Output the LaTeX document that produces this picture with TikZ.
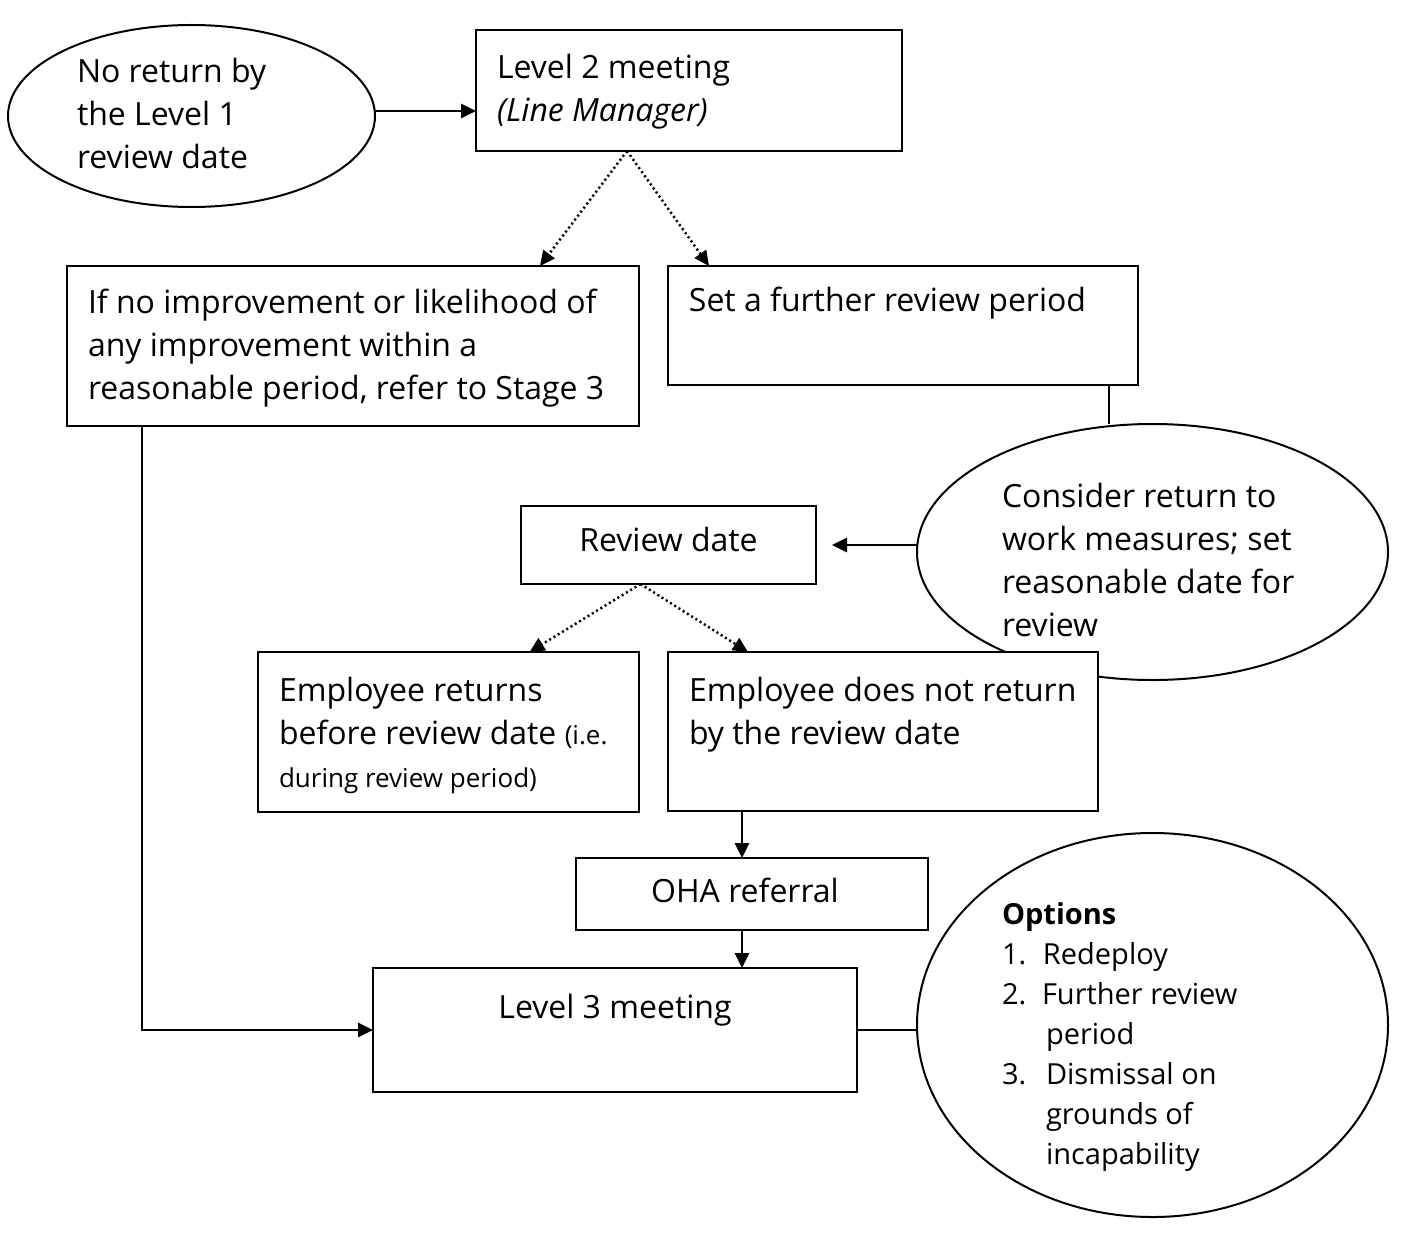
\documentclass[tikz,border=0pt]{standalone}
\usepackage{fontspec}
\setmainfont{Open Sans}
\usetikzlibrary{arrows.meta,shapes.geometric,calc}
\begin{document}
\begin{tikzpicture}[x=1pt,y=-1pt,
  box/.style={draw,line width=2pt,fill=white,rectangle,inner sep=0pt,outer sep=0pt},
  oval/.style={draw,line width=2pt,ellipse,inner sep=0pt,outer sep=0pt},
  txt/.style={inner sep=0pt,outer sep=0pt,align=left,anchor=north west,font=\fontsize{32}{43}\selectfont,execute at begin node=\strut},
  ctxt/.style={inner sep=0pt,outer sep=0pt,anchor=base,font=\fontsize{32}{43}\selectfont},
  arr/.style={line width=2.8pt,-{Triangle[length=15pt,width=14pt]}},
  dotarr/.style={line width=2.5pt,dash pattern=on 2pt off 3pt,-{Triangle[length=15pt,width=14pt]}},
  plain/.style={line width=2pt}]
\useasboundingbox (0,0) rectangle (1402,1244);
\fill[white] (0,0) rectangle (1402,1244);

% top row
\node[oval,minimum width=367pt,minimum height=182pt] (e1) at (191.5,116) {};
\node[txt] (e1t) at (77,58) {No return by\\the Level 1\\review date};
\node[box,minimum width=426pt,minimum height=121pt] (l2) at (689,90.5) {};
\node[txt] (l2t) at (497,54) {Level 2 meeting\\\textit{(Line Manager)}};

% second row
\node[box,minimum width=572pt,minimum height=160pt] (ifb) at (353,346) {};
\node[txt] (ifbt) at (88,289) {If no improvement or likelihood of\\any improvement within a\\reasonable period, refer to Stage 3};
\node[box,minimum width=470pt,minimum height=119pt] (set) at (903,325.5) {};
\node[ctxt] (sett) at (887.5,311) {Set a further review period};

% consider ellipse
\node[oval,minimum width=471pt,minimum height=256pt] (e2) at (1152.5,552) {};
\node[txt] (e2t) at (1002,483) {Consider return to\\work measures; set\\reasonable date for\\review};

% review date
\node[box,minimum width=295pt,minimum height=78pt] (rd) at (668.5,545) {};
\node[ctxt] (rdt) at (668.5,551) {Review date};

% employee boxes
\node[box,minimum width=381pt,minimum height=160pt] (er) at (448.5,732) {};
\node[txt] (ert) at (279,677) {Employee returns\\before review date {\fontsize{26}{43}\selectfont (i.e.}\\{\fontsize{26}{42}\selectfont during review period)}};
\node[box,minimum width=430pt,minimum height=159pt] (en) at (883,731.5) {};
\node[txt] (ent) at (689,677) {Employee does not return\\by the review date};

% OHA
\node[box,minimum width=352pt,minimum height=72pt] (oha) at (752,894) {};
\node[ctxt] (ohat) at (745,902) {OHA referral};

% Level 3
\node[box,minimum width=484pt,minimum height=124pt] (l3) at (615,1030) {};
\node[ctxt] (l3t) at (615,1018) {Level 3 meeting};

% options
\node[oval,minimum width=471pt,minimum height=384pt] (opt) at (1152.5,1025) {};
\node[txt,font=\fontsize{29}{40}\selectfont] (optt) at (1002,902) {\textbf{Options}\\
\makebox[41pt][l]{1.}Redeploy\\
\makebox[40pt][l]{2.}Further review\\
\hspace*{44pt}period\\
\makebox[44pt][l]{3.}Dismissal on\\
\hspace*{44pt}grounds of\\
\hspace*{44pt}incapability};

% connectors
\draw[arr] ([yshift=5pt]e1.east) -- ([yshift=5pt]e1.east -| l2.west);
\draw[dotarr] ([xshift=-62pt]l2.south) -- ([xshift=187pt]ifb.north);
\draw[dotarr] ([xshift=-62pt]l2.south) -- ([xshift=-194pt]set.north);
\draw[plain] ([xshift=206pt]set.south) -- ([xshift=206pt]set.south |- e2.north);
\draw[arr] (e2.west |- rd.east) -- ([xshift=16pt]rd.east);
\draw[dotarr] ([xshift=-28pt]rd.south) -- ([xshift=81pt]er.north);
\draw[dotarr] ([xshift=-28pt]rd.south) -- ([xshift=-135pt]en.north);
\draw[arr] ([xshift=-10pt]oha.north |- en.south) -- ([xshift=-10pt]oha.north);
\draw[arr] ([xshift=-10pt]oha.south) -- ([xshift=-10pt]oha.south |- l3.north);
\draw[arr] ([xshift=-211pt]ifb.south) |- (l3.west);
\draw[plain] (l3.east) -- (l3.east -| opt.west);
\end{tikzpicture}
\end{document}
